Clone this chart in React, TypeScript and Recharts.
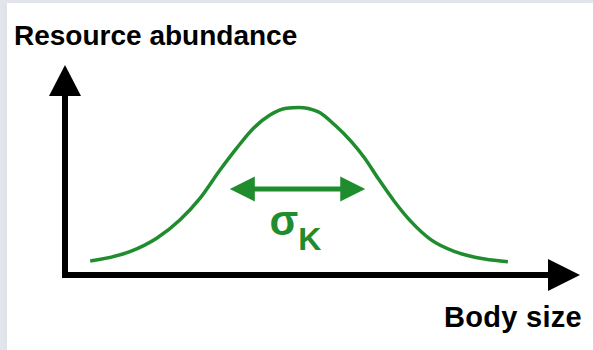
import React from 'react';
import { LineChart, Line, XAxis, YAxis, ReferenceLine, ReferenceDot } from 'recharts';

// Body size (x, 0–100) vs resource abundance (y, 0–100)
const bodySize = [4.9, 12.6, 17.8, 22.3, 26.2, 30.1, 33.3, 36.6, 39.8, 43.0, 45.4, 49.1, 52.4, 55.6, 58.2, 60.8, 64.0, 67.2, 71.1, 75.7, 81.5, 86.0];
const abundance = [6.7, 11.1, 17.5, 26.2, 36.5, 50.0, 60.3, 69.9, 76.2, 79.4, 79.8, 77.8, 71.4, 63.5, 55.6, 46.0, 34.9, 25.4, 16.7, 11.1, 7.6, 6.3];
const sigmaStart = 32.0;
const sigmaEnd = 58.3;
const sigmaLevel = 41.0;
const xTitle = 'Body size';
const yTitle = 'Resource abundance';

const data = bodySize.map((x, i) => ({ x, y: abundance[i] }));

const GREEN = '#1f8c2e';
const FONT = '"Liberation Sans", Arial, Helvetica, sans-serif';

const UpArrow = (p: any) => {
  const { cx, cy } = p;
  return <polygon points={`${cx},${cy} ${cx - 16},${cy + 31} ${cx + 16},${cy + 31}`} fill="#000" />;
};
const RightArrow = (p: any) => {
  const { cx, cy } = p;
  return <polygon points={`${cx},${cy} ${cx - 32},${cy - 16} ${cx - 32},${cy + 16}`} fill="#000" />;
};

const DoubleArrow = (p: any) => {
  const xa = Math.min(p.x1, p.x2);
  const xb = Math.max(p.x1, p.x2);
  const y = p.y1;
  const hl = 25;
  const hh = 12.5;
  const c = (xa + xb) / 2;
  return (
    <g>
      <line x1={xa + 20} y1={y} x2={xb - 20} y2={y} stroke={GREEN} strokeWidth={5} />
      <polygon points={`${xa},${y} ${xa + hl},${y - hh} ${xa + hl},${y + hh}`} fill={GREEN} />
      <polygon points={`${xb},${y} ${xb - hl},${y - hh} ${xb - hl},${y + hh}`} fill={GREEN} />
      <text x={c - 28} y={y + 46} fill={GREEN} fontFamily={FONT} fontWeight="bold" fontSize={42}>
        σ<tspan fontSize={32} dy={15}>K</tspan>
      </text>
    </g>
  );
};

export default function App() {
  return (
    <div style={{ position: 'absolute', left: 0, top: 0, width: 593, height: 350, background: '#e4e6ed', overflow: 'hidden' }}>
      <div style={{ position: 'absolute', left: 7, top: 3, width: 586, height: 347, background: '#fff', boxShadow: '-3px 0 4px rgba(220,222,230,0.6)' }} />
      <div style={{ position: 'absolute', left: 0, top: 0 }}>
        <LineChart width={593} height={350} data={data} margin={{ top: 65, right: 13, bottom: 75, left: 65 }}>
          <XAxis type="number" dataKey="x" domain={[0, 100]} hide />
          <YAxis type="number" domain={[0, 100]} hide />
          <ReferenceLine segment={[{ x: 0, y: 0 }, { x: 95, y: 0 }]} stroke="#000" strokeWidth={6} strokeLinecap="square" />
          <ReferenceLine segment={[{ x: 0, y: 0 }, { x: 0, y: 90 }]} stroke="#000" strokeWidth={6} strokeLinecap="square" />
          <ReferenceDot x={0} y={100} shape={UpArrow} />
          <ReferenceDot x={100} y={0} shape={RightArrow} />
          <Line type="monotone" dataKey="y" stroke={GREEN} strokeWidth={3.5} dot={false} isAnimationActive={false} />
          <ReferenceLine segment={[{ x: sigmaStart, y: sigmaLevel }, { x: sigmaEnd, y: sigmaLevel }]} shape={DoubleArrow} />
          <text x={14} y={45} fontFamily={FONT} fontWeight="bold" fontSize={28} fill="#000">{yTitle}</text>
          <text x={582} y={327} textAnchor="end" fontFamily={FONT} fontWeight="bold" fontSize={29} letterSpacing={0.3} fill="#000">{xTitle}</text>
        </LineChart>
      </div>
    </div>
  );
}
